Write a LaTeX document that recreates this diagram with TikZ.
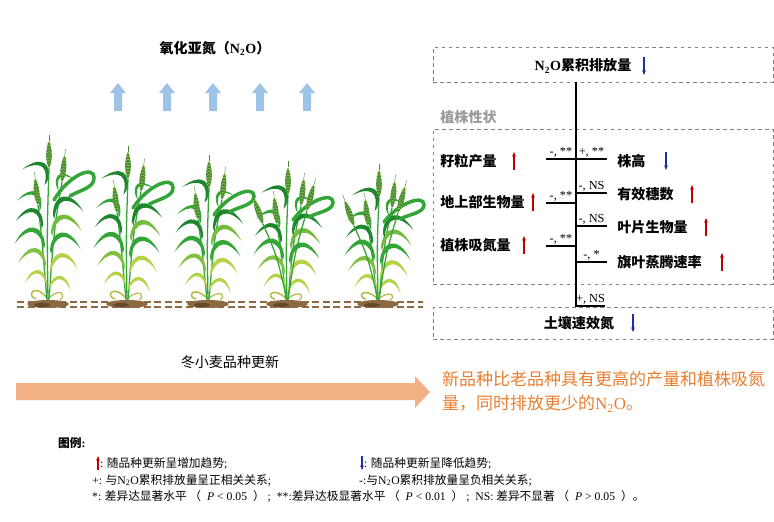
\documentclass[tikz,border=0pt]{standalone}
\usepackage{fontspec}
\setmainfont{Liberation Serif}
\newfontfamily\cjk{Noto Sans CJK SC}
\usetikzlibrary{arrows.meta,calc,positioning,fit}
\definecolor{UpClr}{RGB}{192,0,0}
\definecolor{DownClr}{RGB}{32,48,160}
\definecolor{GasClr}{RGB}{157,195,230}
\definecolor{TrendClr}{RGB}{243,176,132}
\definecolor{NoteClr}{RGB}{233,125,47}
\definecolor{BoxClr}{RGB}{128,128,128}
\definecolor{LeafClr}{RGB}{52,165,55}
\definecolor{DarkLeafClr}{RGB}{30,135,45}
\definecolor{PaleLeafClr}{RGB}{180,210,70}
\definecolor{EarClr}{RGB}{70,140,55}
\definecolor{SoilClr}{RGB}{140,105,65}

\newcommand\NtwoO{{\rmfamily N\textsubscript{2}O}}
\newcommand\riseArrow[3]{\draw[uparr] (#1,{#2+#3}) -- (#1,{#2-#3});}
\newcommand\fallArrow[3]{\draw[downarr] (#1,{#2-#3}) -- (#1,{#2+#3});}

\tikzset{
  dbox/.style={draw=BoxClr,dashed,line width=0.6pt,inner sep=0pt},
  lab/.style={font=\cjk\bfseries\fontsize{12}{14}\selectfont,inner sep=1pt},
  sig/.style={font=\fontsize{10.5}{12}\selectfont,inner sep=1pt},
  note/.style={font=\cjk\fontsize{10}{12}\selectfont,inner sep=0pt,anchor=west},
  link/.style={line width=1pt},
  uparr/.style={UpClr,line width=0.9pt,-{Stealth[length=4pt,width=3.2pt]}},
  downarr/.style={DownClr,line width=0.9pt,-{Stealth[length=4pt,width=3.2pt]}},
  stem/.style={LeafClr,line width=1.1pt},
  leaf/.pic={\fill (0,0) .. controls (6,-17) and (22,-19) .. (27,6) .. controls (19,-13) and (8,-13) .. (0,4) -- cycle;},
  ear/.pic={
    \fill[EarClr] (0,0) .. controls (4,-6) and (3.5,-20) .. (0,-27) .. controls (-3.5,-20) and (-4,-6) .. (0,0) -- cycle;
    \foreach \t in {-3,-6,...,-24} \draw[PaleLeafClr,line width=.3pt] (-2.3,\t) -- (0,\t-1.5) -- (2.3,\t);
    \draw[EarClr,line width=.4pt] (0,-27) -- (0,-33);
  },
  wheat/.pic={
    \draw[color=PaleLeafClr!70!brown,line width=1.3pt] (-1,-2) .. controls (-14,-18) and (-22,-4) .. (-12,-1);
    \draw[color=PaleLeafClr!70!brown,line width=1pt] (2,-3) .. controls (14,-13) and (18,-4) .. (12,0);
    \draw[stem] (0,0) .. controls (-1,-70) .. (1,-132);
    \draw[stem] (1,0) .. controls (6,-70) .. (14,-118);
    \draw[stem] (-1,0) .. controls (-6,-60) .. (-10,-95);
    \pic[color=PaleLeafClr,rotate=0,scale=.8] at (1,-14) {leaf};
    \pic[color=PaleLeafClr,rotate=10] at (2,-32) {leaf};
    \pic[color=LeafClr,rotate=15,scale=1.1] at (2,-50) {leaf};
    \pic[color=PaleLeafClr!50!LeafClr,rotate=15,scale=1.1] at (3,-68) {leaf};
    \pic[color=DarkLeafClr,rotate=20,scale=1.1] at (5,-85) {leaf};
    \pic[color=LeafClr,rotate=40,scale=.7] at (9,-112) {leaf};
    \pic[color=PaleLeafClr,xscale=-1,rotate=10,scale=.8] at (-1,-18) {leaf};
    \pic[color=PaleLeafClr!60!LeafClr,xscale=-1,rotate=15] at (-2,-36) {leaf};
    \pic[color=LeafClr,xscale=-1,rotate=15,scale=1.1] at (-3,-55) {leaf};
    \pic[color=DarkLeafClr,xscale=-1,rotate=20] at (-5,-75) {leaf};
    \pic[color=LeafClr,xscale=-1,rotate=30,scale=.9] at (-7,-92) {leaf};
    \pic[color=DarkLeafClr,xscale=-1,rotate=40] at (-1,-118) {leaf};
    \pic at (1,-132) {ear};
    \pic[rotate=-6] at (14,-118) {ear};
    \pic[rotate=6] at (-10,-95) {ear};
    \draw[LeafClr,line width=3pt,line cap=round] (6,-100) .. controls (20,-124) and (46,-136) .. (46,-122) .. controls (46,-112) and (32,-110) .. (22,-104);
  },
  moreears/.pic={
    \draw[stem] (1,0) .. controls (8,-60) .. (20,-112);
    \draw[stem] (0,0) .. controls (-10,-55) .. (-24,-95);
    \pic[rotate=-15] at (20,-112) {ear};
    \pic[rotate=20] at (-24,-95) {ear};
  }
}

\begin{document}
\begin{tikzpicture}[x=0.03cm,y=-0.03cm]
\useasboundingbox (0,0) rectangle (774,521);

% gas and plants
\node[lab] (gas) at (215,48) {氧化亚氮（\NtwoO）};
\foreach \x in {118,167,213,260,307}
  \fill[GasClr] (\x-4,111) -- (\x-4,93) -- (\x-8,93) -- (\x,83) -- (\x+8,93) -- (\x+4,93) -- (\x+4,111) -- cycle;

\draw[SoilClr,line width=1.3pt,dash pattern=on 6pt off 3pt] (17,302) -- (423,302);
\draw[SoilClr,line width=1.3pt,dash pattern=on 6pt off 3pt] (17,307) -- (423,307);

\pic at (48,300) {wheat};
\pic[yscale=.92] at (127,300) {wheat};
\pic[yscale=.85] at (208,300) {wheat};
\pic[yscale=.8] at (287,300) {wheat};
\pic[yscale=.8] at (287,300) {moreears};
\pic[yscale=.78] at (378,300) {wheat};
\pic[yscale=.78] at (378,300) {moreears};
\foreach \x in {48,127,208,287,378} {
  \fill[SoilClr] (\x,304) ellipse (21 and 4);
  \fill[SoilClr!70!black] (\x-6,305) ellipse (8 and 2);
}

% variety renewal
\node[font=\cjk\fontsize{12}{14}\selectfont] (renew) at (230,362) {冬小麦品种更新};
\fill[TrendClr] (16,383) -- (415,383) -- (415,376) -- (430,392) -- (415,408) -- (415,400) -- (16,400) -- cycle;
\node[font=\cjk\fontsize{14.5}{20.5}\selectfont,text=NoteClr,align=left,anchor=north west,inner sep=0pt] (summary) at (442,371)
  {新品种比老品种具有更高的产量和植株吸氮\\量，同时排放更少的\NtwoO。};

% correlation scheme
\node[dbox,fit={(433,47) (773,82)}] (emis) {};
\node[dbox,fit={(433,129) (773,284)}] (traits) {};
\node[dbox,fit={(433,307) (773,339)}] (soil) {};
\node[lab] (emistxt) at (583,66) {\NtwoO 累积排放量};
\node[lab,text=BoxClr!80,anchor=west] (traitname) at (439,117) {植株性状};
\node[lab] (soiltxt) at (579,323) {土壤速效氮};
\coordinate (axis) at (576,200);
\draw[link] (emis.south -| axis) -- (soil.north -| axis);

\node[lab,anchor=west] (yield) at (439,161) {籽粒产量};
\node[lab,anchor=west] (biomass) at (439,202) {地上部生物量};
\node[lab,anchor=west] (uptake) at (439,245) {植株吸氮量};
\node[lab,anchor=west] (height) at (616,161) {株高};
\node[lab,anchor=west] (spikes) at (616,194) {有效穗数};
\node[lab,anchor=west] (leafbio) at (616,227) {叶片生物量};
\node[lab,anchor=west] (transp) at (616,262) {旗叶蒸腾速率};

\coordinate (yieldend) at (546,159);
\coordinate (biomassend) at (546,203);
\coordinate (uptakeend) at (546,246);
\coordinate (heightend) at (607,159);
\coordinate (spikesend) at (607,193);
\coordinate (leafbioend) at (607,226);
\coordinate (transpend) at (607,262);
\coordinate (soilend) at (605,306);
\draw[link] (yieldend) -- (yieldend -| axis) node[sig,midway,above] {-, **};
\draw[link] (biomassend) -- (biomassend -| axis) node[sig,midway,above] {-, **};
\draw[link] (uptakeend) -- (uptakeend -| axis) node[sig,midway,above] {-, **};
\draw[link] (heightend -| axis) -- (heightend) node[sig,midway,above] {+, **};
\draw[link] (spikesend -| axis) -- (spikesend) node[sig,midway,above] {-, NS};
\draw[link] (leafbioend -| axis) -- (leafbioend) node[sig,midway,above] {-, NS};
\draw[link] (transpend -| axis) -- (transpend) node[sig,midway,above] {-, *};
\draw[link] (soilend -| axis) -- (soilend) node[sig,midway,above] {+, NS};

\fallArrow{644}{66}{9}
\riseArrow{514}{161}{9}
\riseArrow{533}{202}{9}
\riseArrow{524}{245}{9}
\fallArrow{666}{161}{9}
\riseArrow{692}{194}{9}
\riseArrow{706}{227}{9}
\riseArrow{722}{262}{9}
\fallArrow{633}{323}{9}

% legend
\node[font=\cjk\bfseries\fontsize{10}{12}\selectfont,anchor=west,inner sep=0pt] (legend) at (58,443) {图例{\rmfamily:}};
\riseArrow{98}{463}{7}
\node[note] (uplegend) at (100,463) {{\rmfamily:} 随品种更新呈增加趋势{\rmfamily;}};
\fallArrow{362}{463}{7}
\node[note] (downlegend) at (364,463) {{\rmfamily:} 随品种更新呈降低趋势{\rmfamily;}};
\node[note] (poslegend) at (92,480) {{\rmfamily+:} 与\NtwoO 累积排放量呈正相关关系{\rmfamily;}};
\node[note] (neglegend) at (359,480) {{\rmfamily-:}与\NtwoO 累积排放量呈负相关关系{\rmfamily;}};
\node[note] (siglegend) at (92,496) {{\rmfamily*:} 差异达显著水平 （{\rmfamily\ \ \itshape P}{\rmfamily\ <\ 0.05\ \ }）{\rmfamily\ ;\ \ **:}差异达极显著水平 （{\rmfamily\ \ \itshape P}{\rmfamily\ <\ 0.01\ \ }）{\rmfamily\ ;\ \ NS:} 差异不显著 （{\rmfamily\ \ \itshape P}{\rmfamily\ >\ 0.05\ \ }）。};
\end{tikzpicture}
\end{document}
